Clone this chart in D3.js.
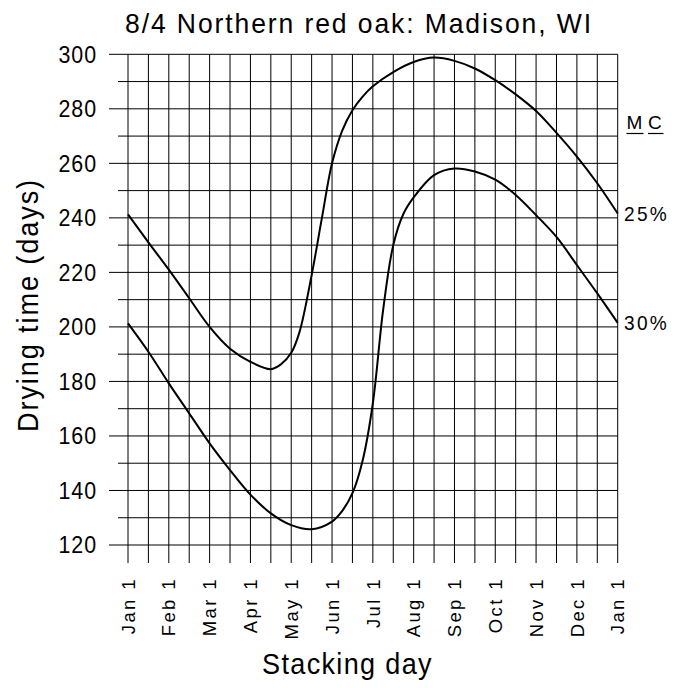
<!DOCTYPE html>
<html>
<head>
<meta charset="utf-8">
<script src="https://cdn.jsdelivr.net/npm/d3@7"></script>
<style>
  html, body { margin: 0; padding: 0; background: #fff; }
  svg { display: block; }
  text { font-family: "Liberation Sans", Arial, sans-serif; fill: #000; }
</style>
</head>
<body>
<script>
// ---- data ----
const monthLabels = ["Jan 1","Feb 1","Mar 1","Apr 1","May 1","Jun 1","Jul 1","Aug 1","Sep 1","Oct 1","Nov 1","Dec 1","Jan 1"];
const yTickValues = [120,140,160,180,200,220,240,260,280,300];
const titleText = "8/4 Northern red oak: Madison, WI";

// 25% MC curve (x in months since Jan 1)
const mc25Month = [0,0.5,1,1.5,2,2.5,3,3.5,3.75,4,4.2,4.5,4.75,5,5.25,5.5,5.75,6,6.5,7,7.5,8,8.5,9,9.5,10,10.5,11,11.5,12];
const mc25Days  = [241.3,231,221,210.5,200,192,187.2,184.5,186.3,190.5,198,219,239.8,260,272,279.5,284.5,288.3,293.5,297.2,298.8,297.6,294.8,290.5,285.3,279.2,271.2,262.5,252.7,241.6];

// 30% MC curve
const mc30Month = [0,0.5,1,1.5,2,2.5,3,3.5,4,4.5,5,5.25,5.5,5.75,6,6.25,6.5,6.75,7,7.5,8,8.5,9,9.5,10,10.5,11,11.5,12];
const mc30Days  = [201.3,190.9,179.3,168.3,157.3,147.5,138.5,131.6,127.3,125.8,128.6,132.5,139,151,172,206,230,241.5,247.5,255.7,258.1,257,254,248.4,241,233,222.7,212.3,201.5];

const seriesLabels = ["25%","30%"];

// ---- layout ----
const W = 689, H = 688;
const svg = d3.select("body").append("svg").attr("width", W).attr("height", H);

const x = d3.scaleLinear().domain([0, 12]).range([128, 617.7]);
const y = d3.scaleLinear().domain([120, 300]).range([545, 54.3]);

// vertical grid lines (every half month), extended below the axis as ticks
const gridG = svg.append("g").attr("stroke", "#000").attr("stroke-width", 1).attr("fill", "none");
d3.range(0, 12.01, 0.5).forEach(m => {
  gridG.append("line").attr("x1", x(m)).attr("x2", x(m)).attr("y1", y(300)).attr("y2", 563);
});
// horizontal grid lines (every 10 days)
d3.range(120, 300.01, 10).forEach(v => {
  const major = v % 20 === 0;
  gridG.append("line").attr("x1", major ? 109 : 118).attr("x2", x(12)).attr("y1", y(v)).attr("y2", y(v));
});

// y tick labels
svg.append("g").selectAll("text").data(yTickValues).join("text")
  .attr("x", 97).attr("y", d => y(d)).attr("dy", "0.36em")
  .attr("text-anchor", "end").attr("font-size", 23).attr("letter-spacing", 1)
  .attr("textLength", 38.5).attr("lengthAdjust", "spacingAndGlyphs")
  .text(d => d);

// x tick labels (rotated)
svg.append("g").selectAll("text").data(monthLabels).join("text")
  .attr("transform", (d, i) => `translate(${x(i)},577) rotate(-90)`)
  .attr("dy", "0.36em")
  .attr("text-anchor", "end").attr("font-size", 18.5).attr("letter-spacing", 2.4)
  .text(d => d);

// title
svg.append("text").attr("x", 125).attr("y", 32.5)
  .attr("font-size", 28).attr("letter-spacing", 2)
  .attr("textLength", 468).attr("lengthAdjust", "spacingAndGlyphs")
  .text(titleText);

// axis titles
svg.append("text")
  .attr("transform", "translate(38,178) rotate(-90)")
  .attr("x", -254).attr("text-anchor", "start")
  .attr("font-size", 29).attr("letter-spacing", 2)
  .attr("textLength", 254).attr("lengthAdjust", "spacingAndGlyphs")
  .text("Drying time (days)");

svg.append("text").attr("x", 262).attr("y", 674)
  .attr("font-size", 30).attr("letter-spacing", 1.5)
  .attr("textLength", 171).attr("lengthAdjust", "spacingAndGlyphs")
  .text("Stacking day");

// curves
const line = d3.line().x(d => x(d[0])).y(d => y(d[1])).curve(d3.curveCatmullRom.alpha(0.5));
const curves = [
  d3.zip(mc25Month, mc25Days),
  d3.zip(mc30Month, mc30Days)
];
svg.append("g").selectAll("path").data(curves).join("path")
  .attr("d", line).attr("fill", "none").attr("stroke", "#000").attr("stroke-width", 2);

// right-side labels
const mcG = svg.append("g");
mcG.append("text").attr("x", 626.5).attr("y", 128.5).attr("font-size", 19).text("M");
mcG.append("text").attr("x", 648).attr("y", 128.5).attr("font-size", 19).text("C");
mcG.append("line").attr("x1", 626.5).attr("x2", 643.5).attr("y1", 133.5).attr("y2", 133.5).attr("stroke", "#000").attr("stroke-width", 1.2);
mcG.append("line").attr("x1", 648).attr("x2", 663.5).attr("y1", 133.5).attr("y2", 133.5).attr("stroke", "#000").attr("stroke-width", 1.2);

const ends = [mc25Days[mc25Days.length - 1], mc30Days[mc30Days.length - 1]];
svg.append("g").selectAll("text").data(seriesLabels).join("text")
  .attr("x", 624).attr("y", (d, i) => y(ends[i])).attr("dy", "0.36em")
  .attr("font-size", 21).attr("letter-spacing", 2.5)
  .attr("textLength", 45).attr("lengthAdjust", "spacingAndGlyphs")
  .text(d => d);
</script>
</body>
</html>
